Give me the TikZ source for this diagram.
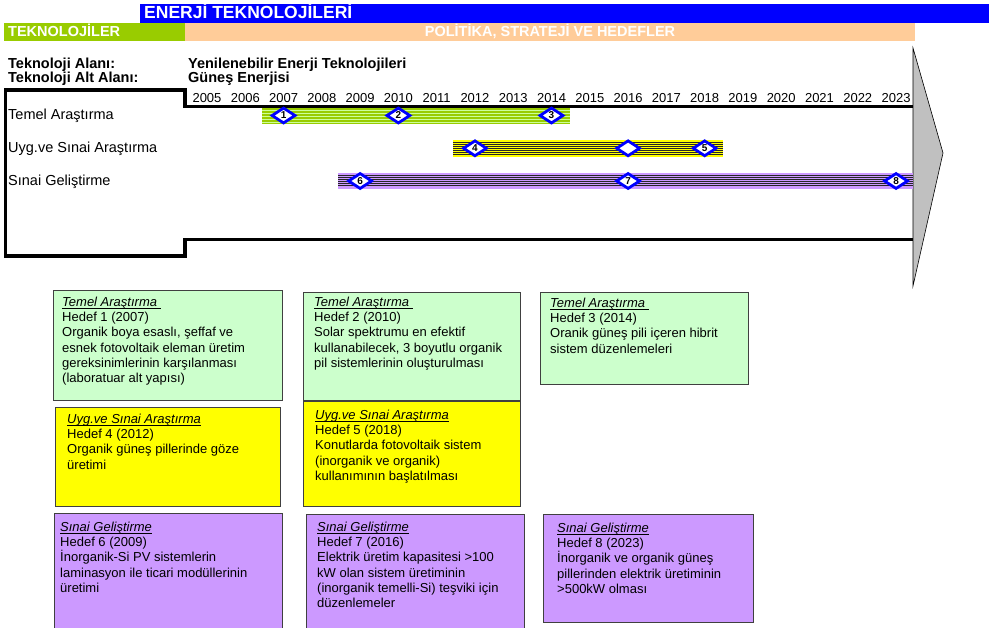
\documentclass[tikz,border=0pt]{standalone}
\usepackage{fontspec}
\setmainfont{Liberation Sans}
\usetikzlibrary{shapes.geometric}
\definecolor{hdrblue}{HTML}{0000FF}
\definecolor{hdrgreen}{HTML}{99CC00}
\definecolor{hdrpeach}{HTML}{FFCC99}
\definecolor{boxgreen}{HTML}{CCFFCC}
\definecolor{boxyellow}{HTML}{FFFF00}
\definecolor{boxpurple}{HTML}{CC99FF}
\definecolor{barlight}{HTML}{CCFF99}
\definecolor{headgray}{HTML}{C0C0C0}
\newcommand{\baslikalti}[1]{\underline{\smash{\textit{#1}}}\vphantom{T}}
\tikzstyle{hdrtext} = [anchor=base west, inner sep=0pt, text=white,
    font=\bfseries\fontsize{14.5}{16}\selectfont]
\tikzstyle{areatext} = [anchor=base west, inner sep=0pt,
    font=\bfseries\fontsize{14.5}{16}\selectfont]
\tikzstyle{yeartext} = [anchor=base, inner sep=0pt, font=\fontsize{13}{14}\selectfont]
\tikzstyle{rowtext} = [anchor=base west, inner sep=0pt, font=\fontsize{14.5}{16}\selectfont]
\tikzstyle{milestone} = [diamond, draw=hdrblue, line width=2.8pt, fill=white,
    minimum width=24pt, minimum height=16pt, inner sep=0pt,
    font=\bfseries\fontsize{10}{10}\selectfont]
\tikzstyle{goalbox} = [rectangle, anchor=north west, draw=black!75, line width=1.2pt, inner sep=0pt]
\tikzstyle{goaltext} = [anchor=north west, inner sep=0pt, align=left,
    font=\fontsize{13}{15.2}\selectfont]
\tikzstyle{barline} = [line width=0.6pt, black!85]

\begin{document}
\begin{tikzpicture}[x=1pt, y=-1pt]
    \useasboundingbox (0,0) rectangle (998,627);
    \clip (0,0) rectangle (998,627);

    \fill[hdrblue] (140,4) rectangle (989,23);
    \fill[hdrgreen] (4,23) rectangle (185,41);
    \fill[hdrpeach] (185,23) rectangle (915,41);
    \node (baslik) [hdrtext, font=\bfseries\fontsize{17.5}{19}\selectfont] at (144,18) {ENERJİ TEKNOLOJİLERİ};
    \node (teknolojiler) [hdrtext] at (8,36) {TEKNOLOJİLER};
    \node (politika) [hdrtext, anchor=base] at (550,36) {POLİTİKA, STRATEJİ VE HEDEFLER};

    \node (alan) [areatext] at (8,68.5) {Teknoloji Alanı:};
    \node (altalan) [areatext] at (8,82.5) {Teknoloji Alt Alanı:};
    \node (alanadi) [areatext] at (188,68.5) {Yenilenebilir Enerji Teknolojileri};
    \node (altalanadi) [areatext] at (188,82.5) {Güneş Enerjisi};

    \foreach \yil [count=\i from 0] in {2005,...,2023}
        \node (y\yil) [yeartext] at ({207+\i*38.28},102.5) {\yil};

    \draw[line width=3.3pt] (913,106.7) -- (185,106.7) -- (185,90) -- (5.7,90)
        -- (5.7,256) -- (185,256) -- (185,239.7) -- (913,239.7);
    \draw[fill=headgray, draw=black, line width=0.6pt] (913,48) -- (943,153) -- (913,286) -- cycle;

    \node (temel) [rowtext] at (8,119.7) {Temel Araştırma};
    \node (uyg) [rowtext] at (8,152.7) {Uyg.ve Sınai Araştırma};
    \node (sinai) [rowtext] at (8,185) {Sınai Geliştirme};
    \coordinate (r1) at (0,115.5);
    \coordinate (r2) at (0,148.3);
    \coordinate (r3) at (0,181);

    \fill[hdrgreen] (262,108) rectangle (570,124);
    \foreach \y in {110,113,...,122}
        \draw[barlight, line width=1pt] (262,\y) -- (570,\y);
    \fill[boxyellow] (453,140) rectangle (723,157);
    \foreach \y in {142.5,144.5,...,155}
        \draw[barline] (453,\y) -- (723,\y);
    \fill[boxpurple] (338,173) rectangle (913,189);
    \foreach \y in {175.5,177.5,...,187}
        \draw[barline] (338,\y) -- (913,\y);

    \node (m1) [milestone] at (y2007 |- r1) {1};
    \node (m2) [milestone] at (y2010 |- r1) {2};
    \node (m3) [milestone] at (y2014 |- r1) {3};
    \node (m4) [milestone] at (y2012 |- r2) {4};
    \node (m45) [milestone] at (y2016 |- r2) {};
    \node (m5) [milestone] at (y2018 |- r2) {5};
    \node (m6) [milestone] at (y2009 |- r3) {6};
    \node (m7) [milestone] at (y2016 |- r3) {7};
    \node (m8) [milestone] at (y2023 |- r3) {8};

    \node (hedef1) [goalbox, fill=boxgreen, minimum width=229pt, minimum height=110pt] at (53,290) {};
    \node (hedef1text) [goaltext] at ([xshift=9pt, yshift=-7.4pt]hedef1.north west)
        {\baslikalti{Temel Araştırma\ }\\Hedef 1 (2007)\\Organik boya esaslı, şeffaf ve\\esnek fotovoltaik eleman üretim\\gereksinimlerinin karşılanması\\(laboratuar alt yapısı)};
    \node (hedef2) [goalbox, fill=boxgreen, minimum width=217pt, minimum height=108pt] at (303,292) {};
    \node (hedef2text) [goaltext] at ([xshift=11pt, yshift=-5.4pt]hedef2.north west)
        {\baslikalti{Temel Araştırma\ }\\Hedef 2 (2010)\\Solar spektrumu en efektif\\kullanabilecek, 3 boyutlu organik\\pil sistemlerinin oluşturulması};
    \node (hedef3) [goalbox, fill=boxgreen, minimum width=208pt, minimum height=92pt] at (540,292) {};
    \node (hedef3text) [goaltext] at ([xshift=10pt, yshift=-6.4pt]hedef3.north west)
        {\baslikalti{Temel Araştırma\ }\\Hedef 3 (2014)\\Oranik güneş pili içeren hibrit\\sistem düzenlemeleri};

    \node (hedef4) [goalbox, fill=boxyellow, minimum width=225pt, minimum height=99pt] at (55,407) {};
    \node (hedef4text) [goaltext] at ([xshift=12pt, yshift=-7.4pt]hedef4.north west)
        {\baslikalti{Uyg.ve Sınai Araştırma}\\Hedef 4 (2012)\\Organik güneş pillerinde göze\\üretimi};
    \node (hedef5) [goalbox, fill=boxyellow, minimum width=217pt, minimum height=105pt] at (303,401) {};
    \node (hedef5text) [goaltext] at ([xshift=12pt, yshift=-9.4pt]hedef5.north west)
        {\baslikalti{Uyg.ve Sınai Araştırma}\\Hedef 5 (2018)\\Konutlarda fotovoltaik sistem\\(inorganik ve organik)\\kullanımının başlatılması};

    \node (hedef6) [goalbox, fill=boxpurple, minimum width=228pt, minimum height=120pt] at (54,513) {};
    \node (hedef6text) [goaltext] at ([xshift=6pt, yshift=-9.4pt]hedef6.north west)
        {\baslikalti{Sınai Geliştirme}\\Hedef 6 (2009)\\İnorganik-Si PV sistemlerin\\laminasyon ile ticari modüllerinin\\üretimi};
    \node (hedef7) [goalbox, fill=boxpurple, minimum width=218pt, minimum height=120pt] at (306,514) {};
    \node (hedef7text) [goaltext] at ([xshift=11pt, yshift=-8.4pt]hedef7.north west)
        {\baslikalti{Sınai Geliştirme}\\Hedef 7 (2016)\\Elektrik üretim kapasitesi >100\\kW olan sistem üretiminin\\(inorganik temelli-Si) teşviki için\\düzenlemeler};
    \node (hedef8) [goalbox, fill=boxpurple, minimum width=210pt, minimum height=108pt] at (543,514) {};
    \node (hedef8text) [goaltext] at ([xshift=14pt, yshift=-9.4pt]hedef8.north west)
        {\baslikalti{Sınai Geliştirme}\\Hedef 8 (2023)\\İnorganik ve organik güneş\\pillerinden elektrik üretiminin\\>500kW olması};
\end{tikzpicture}
\end{document}
